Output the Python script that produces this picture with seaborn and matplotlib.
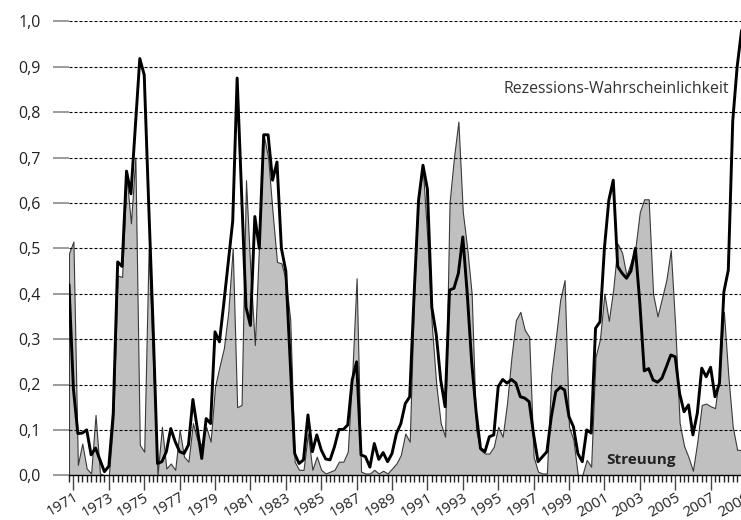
import numpy as np
import pandas as pd
import matplotlib
matplotlib.use("Agg")
import matplotlib.pyplot as plt
import seaborn as sns

# Quarterly data, 1970Q4 .. 2008Q4
quarters = pd.period_range("1970Q4", "2008Q4", freq="Q")

prob = [
    0.42, 0.19, 0.092, 0.093, 0.10, 0.045, 0.06, 0.034, 0.008, 0.02,
    0.137, 0.47, 0.46, 0.67, 0.62, 0.77, 0.918, 0.882, 0.60, 0.33,
    0.026, 0.03, 0.052, 0.103, 0.074, 0.052, 0.048, 0.067, 0.167, 0.103,
    0.037, 0.125, 0.114, 0.316, 0.294, 0.38, 0.47, 0.56, 0.875, 0.62,
    0.37, 0.33, 0.57, 0.50, 0.75, 0.75, 0.65, 0.69, 0.50, 0.45,
    0.25, 0.048, 0.026, 0.034, 0.133, 0.052, 0.089, 0.056, 0.036, 0.034,
    0.063, 0.101, 0.101, 0.111, 0.21, 0.25, 0.045, 0.041, 0.018, 0.07,
    0.035, 0.05, 0.03, 0.048, 0.092, 0.114, 0.158, 0.173, 0.40, 0.606,
    0.683, 0.63, 0.37, 0.31, 0.21, 0.151, 0.408, 0.412, 0.445, 0.525,
    0.40, 0.25, 0.14, 0.059, 0.052, 0.085, 0.089, 0.195, 0.211, 0.203,
    0.211, 0.203, 0.173, 0.17, 0.162, 0.09, 0.03, 0.041, 0.052, 0.129,
    0.184, 0.194, 0.188, 0.129, 0.107, 0.048, 0.03, 0.10, 0.093, 0.324,
    0.338, 0.50, 0.606, 0.65, 0.46, 0.445, 0.434, 0.45, 0.50, 0.38,
    0.23, 0.235, 0.21, 0.205, 0.214, 0.239, 0.265, 0.261, 0.18, 0.14,
    0.155, 0.089, 0.137, 0.236, 0.217, 0.238, 0.173, 0.203, 0.404, 0.452,
    0.78, 0.90, 0.98,
]

streuung = [
    0.489, 0.515, 0.023, 0.07, 0.015, 0.004, 0.133, 0.004, 0.0, 0.0,
    0.12, 0.44, 0.437, 0.66, 0.555, 0.70, 0.067, 0.052, 0.50, 0.25,
    0.0, 0.107, 0.015, 0.026, 0.012, 0.10, 0.041, 0.03, 0.115, 0.078,
    0.067, 0.107, 0.074, 0.195, 0.239, 0.28, 0.36, 0.50, 0.15, 0.155,
    0.65, 0.45, 0.287, 0.52, 0.75, 0.70, 0.58, 0.47, 0.467, 0.43,
    0.342, 0.03, 0.012, 0.012, 0.092, 0.012, 0.041, 0.012, 0.004, 0.008,
    0.012, 0.03, 0.03, 0.052, 0.22, 0.434, 0.008, 0.004, 0.004, 0.012,
    0.004, 0.01, 0.004, 0.015, 0.026, 0.045, 0.092, 0.074, 0.40, 0.62,
    0.67, 0.52, 0.33, 0.20, 0.115, 0.085, 0.60, 0.70, 0.779, 0.58,
    0.50, 0.40, 0.10, 0.056, 0.048, 0.048, 0.063, 0.107, 0.085, 0.159,
    0.261, 0.342, 0.36, 0.32, 0.305, 0.041, 0.008, 0.004, 0.004, 0.221,
    0.30, 0.386, 0.43, 0.107, 0.078, 0.0, 0.0, 0.034, 0.019, 0.261,
    0.30, 0.40, 0.34, 0.41, 0.51, 0.49, 0.44, 0.47, 0.50, 0.58,
    0.608, 0.608, 0.40, 0.35, 0.39, 0.43, 0.496, 0.33, 0.115, 0.065,
    0.04, 0.01, 0.074, 0.155, 0.158, 0.152, 0.148, 0.22, 0.36, 0.22,
    0.107, 0.056, 0.056,
]

year_labels = [str(y) for y in range(1971, 2010, 2)]
y_ticks = [0.0, 0.1, 0.2, 0.3, 0.4, 0.5, 0.6, 0.7, 0.8, 0.9, 1.0]
y_labels = ["0,0", "0,1", "0,2", "0,3", "0,4", "0,5", "0,6", "0,7", "0,8", "0,9", "1,0"]

t = quarters.year + (quarters.quarter - 1) / 4.0
df = pd.DataFrame({"t": t, "prob": prob, "streuung": streuung})

sns.set_style("white")
plt.rcParams["font.family"] = ["Open Sans", "DejaVu Sans"]

W, H = 741, 520
fig = plt.figure(figsize=(W / 100, H / 100), dpi=100)
ax = fig.add_axes([69 / W, 44.7 / H, 677 / W, 454 / H])

ax.fill_between(df["t"], 0, df["streuung"], facecolor="#c0c0c0",
                edgecolor="#3a3a3a", linewidth=0.8, zorder=1)
for yv in y_ticks[1:]:
    ax.axhline(yv, color="black", lw=0.8, ls=(0, (2.7, 1.8)), zorder=2)
sns.lineplot(data=df, x="t", y="prob", color="black", lw=2.1, ax=ax,
             zorder=4, legend=False)

ax.set_xlim(1970.75, 2009.0)
ax.set_ylim(0, 1.0)
ax.set_xlabel("")
ax.set_ylabel("")

ax.set_yticks(y_ticks)
ax.set_yticklabels(y_labels)
ax.set_xticks([int(s) for s in year_labels])
ax.set_xticklabels(year_labels)
ax.set_xticks(np.arange(1970.75, 2009.01, 0.25), minor=True)

ax.tick_params(axis="y", which="major", length=11.5, width=1.2, color="#8a8a8a",
               pad=9, labelsize=11.5, labelcolor="#222222", left=True)
ax.tick_params(axis="x", which="major", length=10.5, width=1.0, color="#444444",
               pad=0, labelsize=10.8, labelcolor="#222222", bottom=True)
ax.tick_params(axis="x", which="minor", length=5, width=1.0, color="#222222",
               bottom=True)
for lab in ax.get_xticklabels():
    lab.set_rotation(30)
    lab.set_ha("right")
    lab.set_rotation_mode("anchor")

for s in ["left", "top", "right"]:
    ax.spines[s].set_visible(False)
ax.spines["bottom"].set_color("black")
ax.spines["bottom"].set_linewidth(1.0)
ax.spines["bottom"].set_zorder(5)

ax.text(2008.05, 0.85, "Rezessions-Wahrscheinlichkeit", ha="right", va="center",
        fontsize=11.4, color="#333333", zorder=6)
ax.text(2001.1, 0.034, "Streuung", ha="left", va="center", fontsize=11,
        fontweight="bold", color="#222222", zorder=6)

fig.savefig("out.png", dpi=100)
